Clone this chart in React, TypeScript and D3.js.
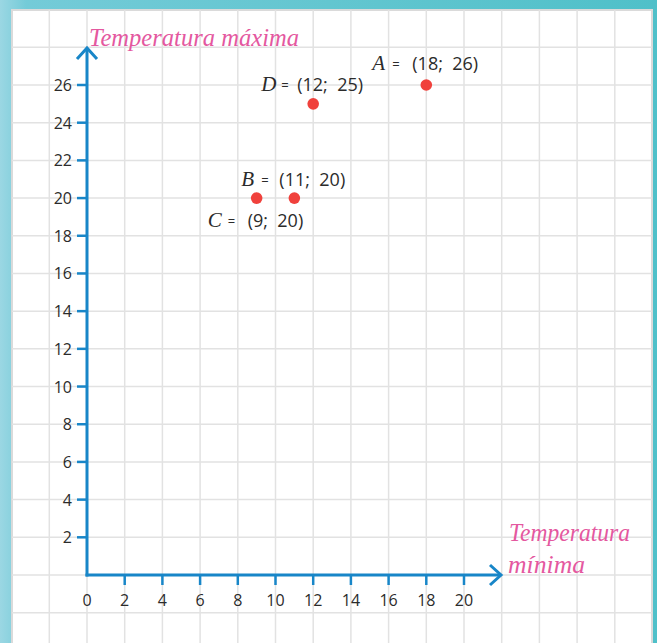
import React from 'react';
import * as d3 from 'd3';

// --- data ---
const xTicks = [2, 4, 6, 8, 10, 12, 14, 16, 18, 20];
const yTicks = [2, 4, 6, 8, 10, 12, 14, 16, 18, 20, 22, 24, 26];
const pointNames = ['A', 'D', 'B', 'C'];
const pointX = [18, 12, 11, 9];
const pointY = [26, 25, 20, 20];
const xTitle = ['Temperatura', 'mínima'];
const yTitle = 'Temperatura máxima';

const W = 657;
const H = 643;
const BLUE = '#1886c8';
const PINK = '#e4589f';
const RED = '#f0413c';
const INK = '#2b2b2b';
const SANS = '"Open Sans", "Noto Sans", sans-serif';
const SERIF = '"Liberation Serif", "DejaVu Serif", serif';

// label offsets relative to each point (letter x, baseline y, coords x)
const labelPos: Record<string, [number, number, number]> = {
  A: [-54, -15, -14],
  D: [-52, -13, -16],
  B: [-53, -12, -15],
  C: [-49, 29, -9],
};

export default function App() {
  const x = d3.scaleLinear().domain([0, 20]).range([87, 464]);
  const y = d3.scaleLinear().domain([0, 26]).range([575, 85]);

  const panel = { left: 12, top: 10, right: 652, bottom: 660 };
  // grid follows the axis units: one cell = 2 units
  const gridX = d3.range(-2, 31, 2).map(x).filter(v => v > panel.left + 2 && v < panel.right - 2);
  const gridY = d3.range(-6, 32, 2).map(y).filter(v => v > panel.top + 2 && v < panel.bottom);

  const x0 = x(0);
  const y0 = y(0);
  const xEnd = 501;
  const yEnd = 48;

  return (
    <svg width={W} height={H} style={{ position: 'fixed', left: 0, top: 0 }}>
      <defs>
        <linearGradient id="bg" x1="0" y1="0" x2="1" y2="0">
          <stop offset="0" stopColor="#9bd7e3" />
          <stop offset="0.04" stopColor="#74cbd8" />
          <stop offset="0.5" stopColor="#63c6d0" />
          <stop offset="1" stopColor="#4fc0c9" />
        </linearGradient>
      </defs>
      <rect width={W} height={H} fill="url(#bg)" />
      <rect x={panel.left} y={panel.top} width={panel.right - panel.left} height={panel.bottom - panel.top}
        fill="#fff" stroke="#dadada" strokeWidth={2} />

      {/* grid */}
      <g stroke="#e2e2e2" strokeWidth={1.5}>
        {gridX.map((gx, i) => (
          <line key={'gx' + i} x1={gx} x2={gx} y1={panel.top} y2={H} />
        ))}
        {gridY.map((gy, i) => (
          <line key={'gy' + i} x1={panel.left} x2={panel.right} y1={gy} y2={gy} />
        ))}
      </g>

      {/* axes */}
      <g stroke={BLUE} strokeWidth={3} fill="none" strokeLinecap="butt">
        <line x1={x0} x2={x0} y1={y0 + 1.5} y2={yEnd + 1} />
        <line x1={x0 - 1.5} x2={xEnd - 1} y1={y0} y2={y0} />
        <polyline points={`${x0 - 10},${yEnd + 11} ${x0},${yEnd} ${x0 + 10},${yEnd + 11}`} />
        <polyline points={`${xEnd - 11},${y0 - 10} ${xEnd},${y0} ${xEnd - 11},${y0 + 10}`} />
        {yTicks.map(t => (
          <line key={'yt' + t} x1={x0 - 10} x2={x0} y1={y(t)} y2={y(t)} strokeWidth={2.5} />
        ))}
        {xTicks.map(t => (
          <line key={'xt' + t} x1={x(t)} x2={x(t)} y1={y0} y2={y0 + 10} strokeWidth={2.5} />
        ))}
      </g>

      {/* tick labels */}
      <g fontFamily={SANS} fontSize={16} fill={INK}>
        {yTicks.map(t => (
          <text key={'yl' + t} x={72} y={y(t) + 6} textAnchor="end">{t}</text>
        ))}
        {[0, ...xTicks].map(t => (
          <text key={'xl' + t} x={x(t)} y={606} textAnchor="middle">{t}</text>
        ))}
      </g>

      {/* axis titles */}
      <g fontFamily={SERIF} fontStyle="italic" fill={PINK} fontSize={25}>
        <text x={89} y={46} textLength={210} lengthAdjust="spacingAndGlyphs">{yTitle}</text>
        <text x={509} y={541} textLength={121} lengthAdjust="spacingAndGlyphs">{xTitle[0]}</text>
        <text x={508} y={573} textLength={77} lengthAdjust="spacingAndGlyphs">{xTitle[1]}</text>
      </g>

      {/* points and labels */}
      {pointNames.map((name, i) => {
        const px = x(pointX[i]);
        const py = y(pointY[i]);
        const [lx, ly, cx] = labelPos[name];
        return (
          <g key={name}>
            <circle cx={px} cy={py} r={5.8} fill={RED} />
            <text x={px + lx} y={py + ly} fontFamily={SERIF} fontStyle="italic" fontSize={21} fill={INK}>{name}</text>
            <text x={px + lx + 20} y={py + ly - 1} fontFamily={SANS} fontSize={13} fill={INK}>=</text>
            <text x={px + cx} y={py + ly} fontFamily={SANS} fontSize={18} fill={INK}>
              {`(${pointX[i]};\u00a0\u00a0${pointY[i]})`}
            </text>
          </g>
        );
      })}
    </svg>
  );
}
